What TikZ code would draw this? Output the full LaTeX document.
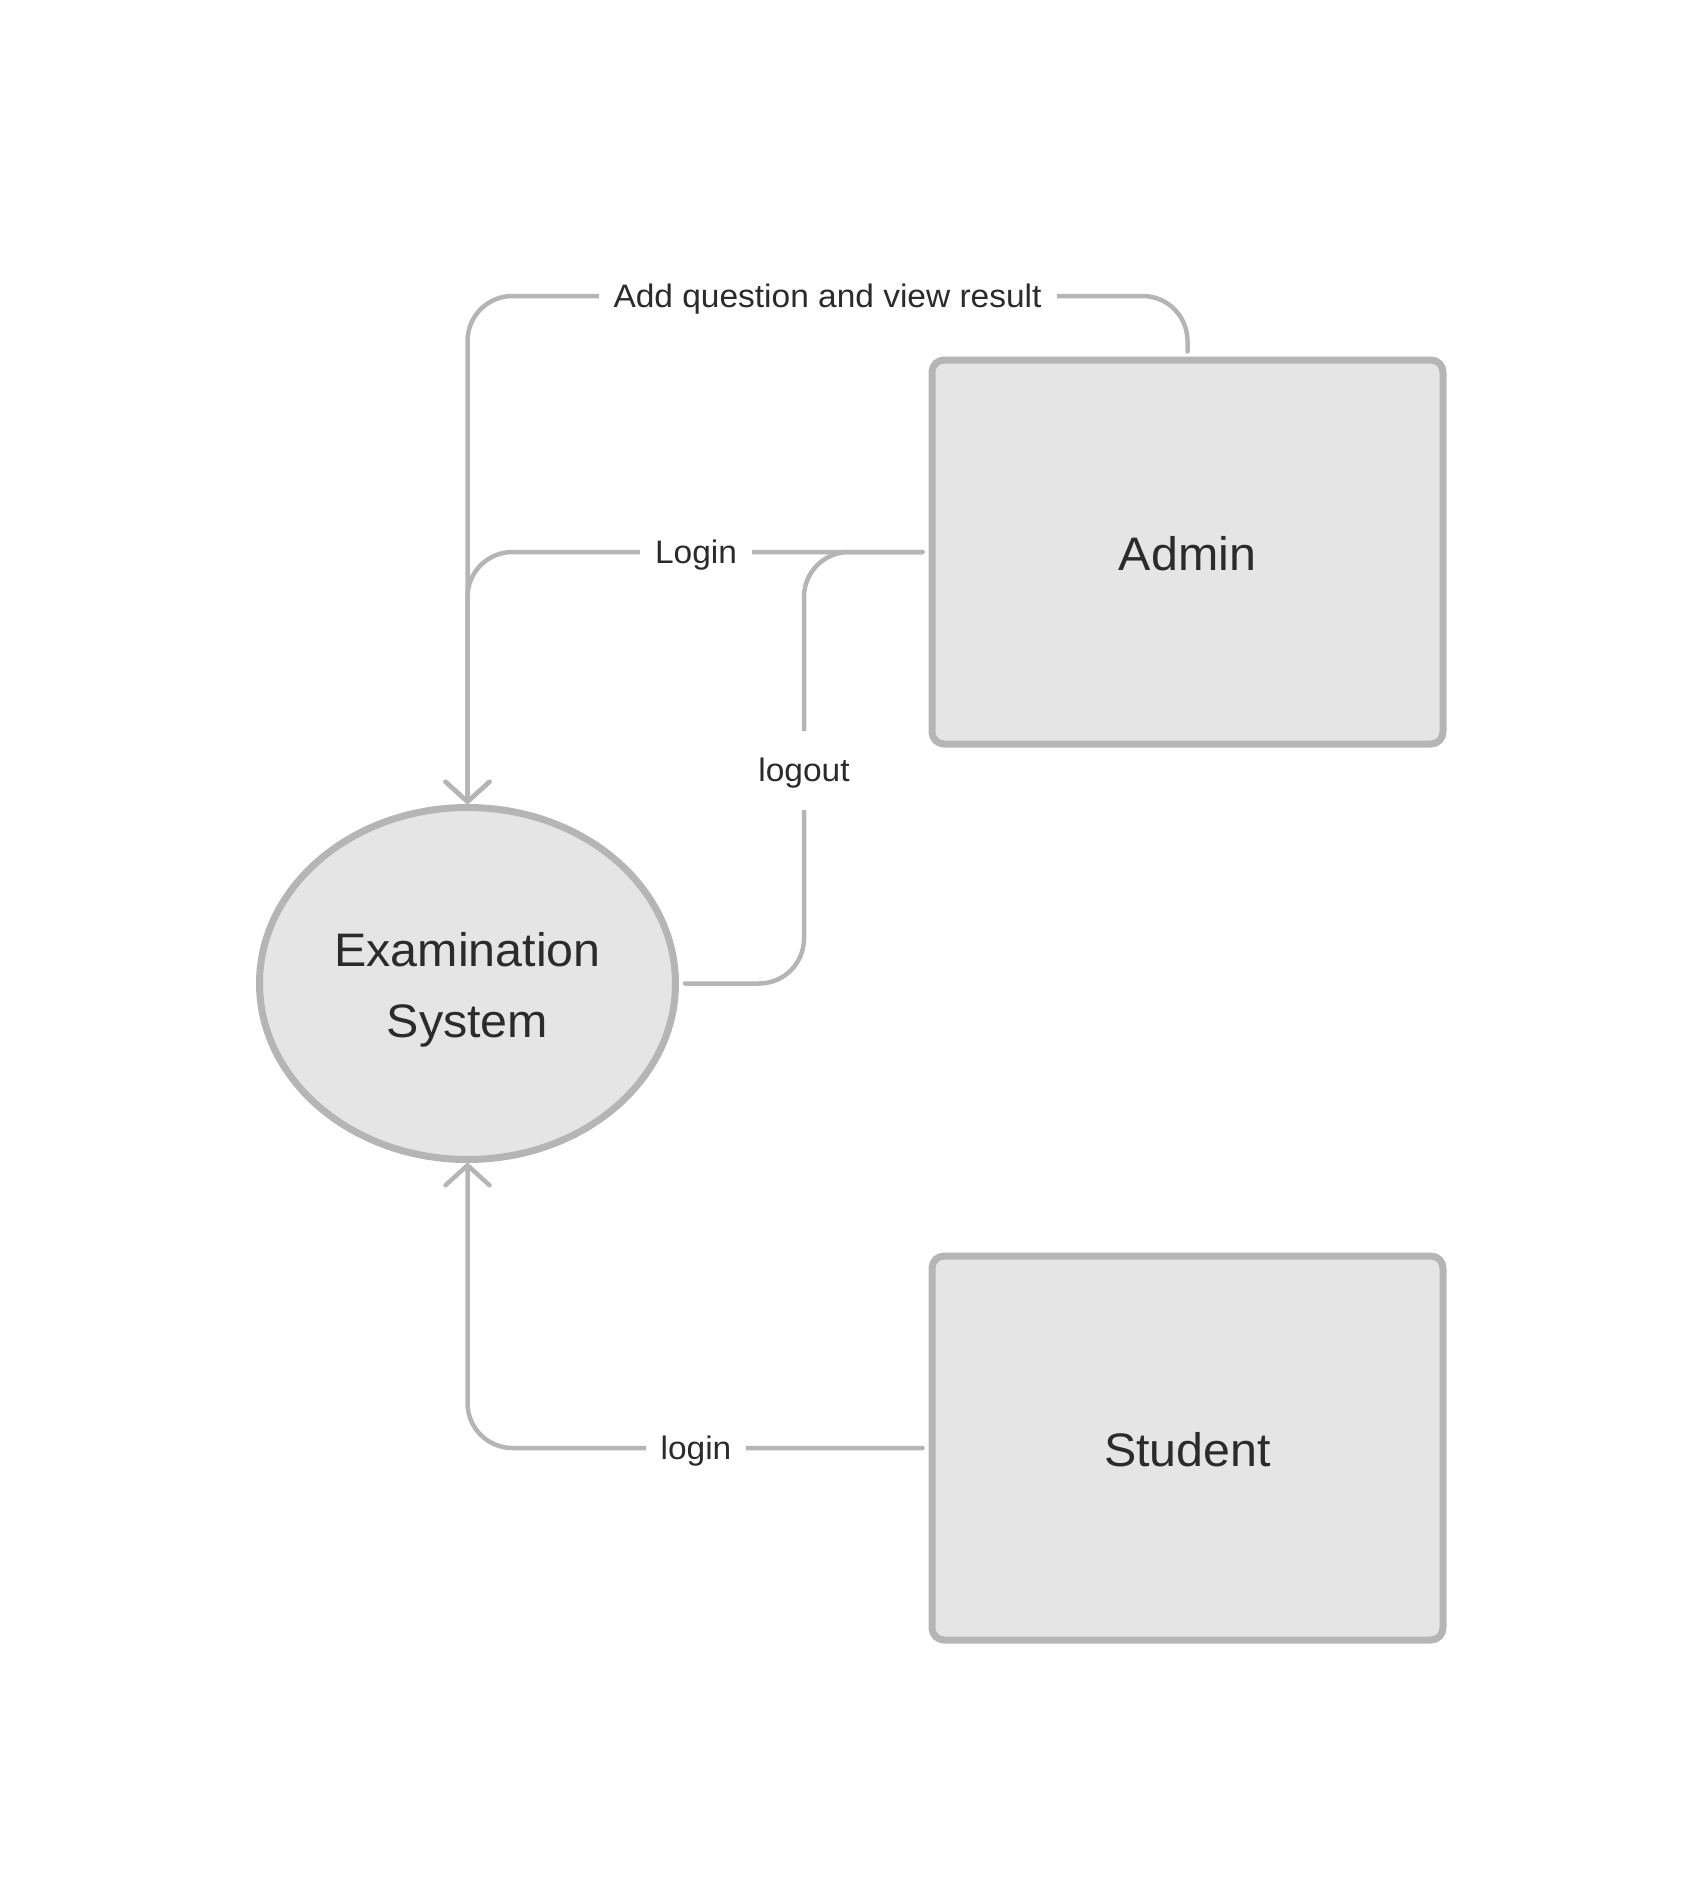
\documentclass[tikz,border=0pt]{standalone}
\usepackage{fontspec}
\setmainfont{Liberation Sans}[FakeStretch=1.03]
\usetikzlibrary{shapes.geometric,arrows.meta}
\definecolor{edgegray}{RGB}{181,181,181}
\definecolor{fillgray}{RGB}{229,229,229}
\definecolor{inkgray}{RGB}{43,43,43}
\begin{document}
\begin{tikzpicture}[x=1pt,y=-1pt,
  entity/.style={draw=edgegray, fill=fillgray, line width=7pt, rounded corners=12pt,
    minimum width=511pt, minimum height=384pt, inner sep=0pt, text=inkgray,
    text height=37pt, text depth=0pt, font=\fontsize{47pt}{56pt}\selectfont},
  process/.style={ellipse, draw=edgegray, fill=fillgray, line width=7pt,
    minimum width=416pt, minimum height=352pt, inner sep=0pt, text=inkgray,
    align=center, font=\fontsize{47pt}{71pt}\selectfont},
  flow/.style={draw=edgegray, line width=4.5pt, line cap=round, rounded corners=45pt},
  flowarrow/.style={flow, -{Straight Barb[length=20pt,width=44pt,round]}},
  lbl/.style={fill=white, text=inkgray, inner xsep=15pt, inner ysep=15pt,
    text height=23pt, text depth=0pt, font=\fontsize{32.5pt}{39pt}\selectfont},
]
\useasboundingbox (0,0) rectangle (1704,1900);

\node[process] (sys) at (467.5,983.5) {\rule{0pt}{47pt}Examination\\System};
\node[entity] (admin) at (1187.5,552) {Admin};
\node[entity] (student) at (1187.5,1448) {Student};

\coordinate (toprow) at (0,296);
\coordinate (lx) at (804,0);

\draw[flowarrow, shorten <=5pt] (admin.north) -- (admin.north |- toprow) -| (sys.north);
\draw[flowarrow, shorten <=6pt] (admin.west) -| (sys.north);
\draw[flow, shorten <=6pt, shorten >=6pt] (sys.east) -| (lx |- admin.west) -- (admin.west);
\draw[flowarrow, shorten <=6pt] (student.west) -| (sys.south);

\node[lbl] (addlbl) at (827.5,296) {Add question and view result};
\node[lbl] (loginlbl) at (696,552) {Login};
\node[lbl, inner ysep=28pt] (logoutlbl) at (804,770) {logout};
\node[lbl] (studlbl) at (696,1448) {login};
\end{tikzpicture}
\end{document}
